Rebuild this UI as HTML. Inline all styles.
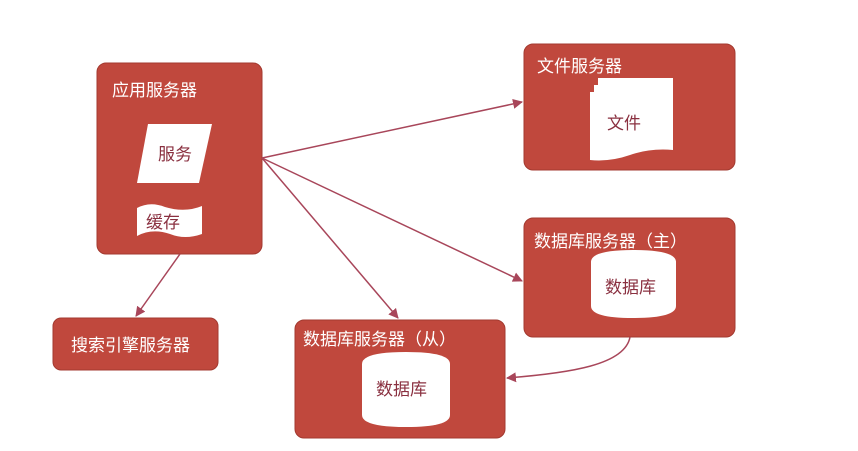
<!DOCTYPE html>
<html><head><meta charset="utf-8"><style>
body{margin:0;background:#fff;width:858px;height:446px;overflow:hidden}
svg text{font-family:"Liberation Sans","Noto Sans CJK SC",sans-serif}
</style></head><body>
<svg width="858" height="446" viewBox="0 0 858 446">
<defs><marker id="a" markerWidth="10" markerHeight="10" refX="9" refY="5" orient="auto" markerUnits="userSpaceOnUse"><path d="M0,0 L10,5 L0,10 z" fill="#a8465a"/></marker></defs>
<g fill="#c0483d" stroke="#a33a30" stroke-width="1">
<rect x="97" y="63" width="165" height="191" rx="9"/>
<rect x="524" y="44" width="211" height="126" rx="9"/>
<rect x="524" y="218" width="211" height="119" rx="9"/>
<rect x="295" y="320" width="210" height="118" rx="9"/>
<rect x="53" y="318" width="165" height="52" rx="8"/>
</g>
<g stroke="#a8465a" stroke-width="1.5" fill="none" marker-end="url(#a)">
<line x1="262" y1="158" x2="522" y2="102"/>
<line x1="262" y1="158" x2="522" y2="281"/>
<line x1="262" y1="158" x2="398" y2="318"/>
<line x1="180" y1="254" x2="136" y2="316"/>
<path d="M630,337 C625,365 570,373 507,378"/>
</g>
<g fill="#fff">
<polygon points="148,124 212,124 199,183 137,183"/>
<path d="M137,208 Q150,201 165,207 Q185,213 202,206 L202,234 Q185,240 170,234 Q152,228 137,236 z"/>
<path d="M598,78 L673,78 L673,150 Q650,148 630,155 Q610,162 590,160 L590,92 L594,92 L594,85 L598,85 z"/>
<path d="M591,262 Q591,250 633,250 Q676,250 676,262 L676,306 Q676,318 633,318 Q591,318 591,306 z"/>
<path d="M362,364 Q362,352 406,352 Q450,352 450,364 L450,415 Q450,427 406,427 Q362,427 362,415 z"/>
</g>
<g fill="#fff" font-size="17">
<text x="112" y="96">应用服务器</text>
<text x="537" y="72">文件服务器</text>
<text x="534" y="247">数据库服务器（主）</text>
<text x="303" y="345">数据库服务器（从）</text>
<text x="71" y="351">搜索引擎服务器</text>
</g>
<g fill="#8a3040" font-size="17">
<text x="158" y="160">服务</text>
<text x="146" y="228">缓存</text>
<text x="607" y="129">文件</text>
<text x="605" y="293">数据库</text>
<text x="376" y="395">数据库</text>
</g>
</svg>
</body></html>
